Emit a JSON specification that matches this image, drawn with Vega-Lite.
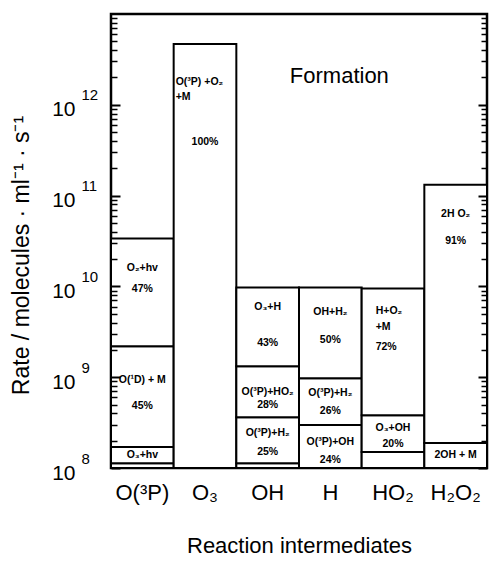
{
  "$schema": "https://vega.github.io/schema/vega-lite/v6.json",
  "width": 376,
  "height": 454,
  "autosize": {"type": "none"},
  "padding": {"left": 111, "top": 14, "right": 4, "bottom": 93},
  "background": "white",
  "config": {
    "view": {"stroke": "black", "strokeWidth": 2.5},
    "font": "Liberation Sans",
    "axis": {"labelColor": "black", "titleColor": "black", "labelFont": "Liberation Sans", "titleFont": "Liberation Sans"}
  },
  "datasets": {
    "segments": [
      {"species": "O(³P)", "lo": 1e8, "hi": 1.13e8},
      {"species": "O(³P)", "lo": 1.13e8, "hi": 1.7e8},
      {"species": "O(³P)", "lo": 1.7e8, "hi": 2.19e9},
      {"species": "O(³P)", "lo": 2.19e9, "hi": 3.37e10},
      {"species": "O₃", "lo": 1e8, "hi": 4.68e12},
      {"species": "OH", "lo": 1e8, "hi": 1.13e8},
      {"species": "OH", "lo": 1.13e8, "hi": 3.63e8},
      {"species": "OH", "lo": 3.63e8, "hi": 1.32e9},
      {"species": "OH", "lo": 1.32e9, "hi": 9.75e9},
      {"species": "H", "lo": 1e8, "hi": 2.97e8},
      {"species": "H", "lo": 2.97e8, "hi": 9.75e8},
      {"species": "H", "lo": 9.75e8, "hi": 9.75e9},
      {"species": "HO₂", "lo": 1e8, "hi": 1.5e8},
      {"species": "HO₂", "lo": 1.5e8, "hi": 3.82e8},
      {"species": "HO₂", "lo": 3.82e8, "hi": 9.5e9},
      {"species": "H₂O₂", "lo": 1e8, "hi": 1.88e8},
      {"species": "H₂O₂", "lo": 1.88e8, "hi": 1.32e11}
    ],
    "labels": [
      {"species": "O(³P)", "y": 1.58e10, "label": "O₂+hv"},
      {"species": "O(³P)", "y": 9.27e9, "label": "47%"},
      {"species": "O(³P)", "y": 9.27e8, "label": "O(¹D) + M"},
      {"species": "O(³P)", "y": 4.8e8, "label": "45%"},
      {"species": "O(³P)", "y": 1.39e8, "label": "O₃+hv"},
      {"species": "O₃", "y": 1.79e12, "label": "O(³P) +O₂"},
      {"species": "O₃", "y": 1.22e12, "label": "+M"},
      {"species": "O₃", "y": 3.92e11, "label": "100%"},
      {"species": "OH", "y": 5.88e9, "label": "O₃+H"},
      {"species": "OH", "y": 2.36e9, "label": "43%"},
      {"species": "OH", "y": 6.84e8, "label": "O(³P)+HO₂"},
      {"species": "OH", "y": 4.92e8, "label": "28%"},
      {"species": "OH", "y": 2.42e8, "label": "O(³P)+H₂"},
      {"species": "OH", "y": 1.5e8, "label": "25%"},
      {"species": "H", "y": 5.18e9, "label": "OH+H₂"},
      {"species": "H", "y": 2.55e9, "label": "50%"},
      {"species": "H", "y": 6.67e8, "label": "O(³P)+H₂"},
      {"species": "H", "y": 4.23e8, "label": "26%"},
      {"species": "H", "y": 1.93e8, "label": "O(³P)+OH"},
      {"species": "H", "y": 1.22e8, "label": "24%"},
      {"species": "HO₂", "y": 5.31e9, "label": "H+O₂"},
      {"species": "HO₂", "y": 3.54e9, "label": "+M"},
      {"species": "HO₂", "y": 2.14e9, "label": "72%"},
      {"species": "HO₂", "y": 2.75e8, "label": "O₃+OH"},
      {"species": "HO₂", "y": 1.84e8, "label": "20%"},
      {"species": "H₂O₂", "y": 6.34e10, "label": "2H O₂"},
      {"species": "H₂O₂", "y": 3.2e10, "label": "91%"},
      {"species": "H₂O₂", "y": 1.39e8, "label": "2OH + M"}
    ],
    "panel": [
      {"species": "H", "y": 2.08e12, "label": "Formation"}
    ]
  },
  "layer": [
    {
      "data": {"name": "segments"},
      "mark": {"type": "bar", "fill": "white", "stroke": "black", "strokeWidth": 2},
      "encoding": {
        "x": {
          "field": "species", "type": "nominal",
          "sort": ["O(³P)", "O₃", "OH", "H", "HO₂", "H₂O₂"],
          "scale": {"paddingInner": 0, "paddingOuter": 0},
          "axis": {"title": "Reaction intermediates", "domain": false, "grid": false, "labelFontSize": 22, "labelAngle": 0, "ticks": false, "labelPadding": 14, "titleFontSize": 22, "titleFontWeight": "normal", "titlePadding": 32}
        },
        "y": {
          "field": "hi", "type": "quantitative",
          "scale": {"type": "log", "domain": [1e8, 1e13], "nice": false},
          "axis": {"orient": "left", "domain": true, "domainOpacity": 0, "grid": false, "zindex": 1, "offset": -9, "values": [1e8, 1e9, 1e10, 1e11, 1e12], "labelExpr": "'10'", "labelFontSize": 21, "ticks": true, "tickSize": 9, "tickWidth": 2, "tickColor": "black", "labelPadding": 36, "labelAlign": "right", "labelBaseline": "middle", "labelOffset": 5,
            "title": "Rate / molecules · ml⁻¹ · s⁻¹", "titleFontSize": 23, "titleFontWeight": "normal", "titleX": -87, "titleY": 241, "titleBaseline": "bottom"}
        },
        "y2": {"field": "lo"}
      }
    },
    {
      "data": {"name": "labels"},
      "transform": [{"filter": "!(datum.species == 'O₃' && datum.label != '100%') && !(datum.species == 'HO₂' && (datum.label == 'H+O₂' || datum.label == '+M' || datum.label == '72%'))"}],
      "mark": {"type": "text", "fontSize": 10.5, "fontWeight": "bold", "align": "center", "baseline": "middle"},
      "encoding": {
        "x": {"field": "species", "type": "nominal", "sort": ["O(³P)", "O₃", "OH", "H", "HO₂", "H₂O₂"], "axis": null},
        "y": {"field": "y", "type": "quantitative",
          "axis": {"orient": "left", "domain": false, "grid": false, "values": [1e8, 1e9, 1e10, 1e11, 1e12], "labelExpr": "format(log(datum.value)/LN10, 'd')", "labelFontSize": 15, "ticks": false, "labelPadding": 30, "labelAlign": "left", "labelBaseline": "middle", "labelOffset": -10, "title": null}
        },
        "text": {"field": "label"}
      }
    },
    {
      "data": {"name": "labels"},
      "transform": [{"filter": "datum.species == 'O₃' && datum.label != '100%'"}],
      "mark": {"type": "text", "fontSize": 10.5, "fontWeight": "bold", "align": "left", "baseline": "middle", "dx": 2},
      "encoding": {
        "x": {"field": "species", "type": "nominal", "sort": ["O(³P)", "O₃", "OH", "H", "HO₂", "H₂O₂"], "bandPosition": 0, "axis": null},
        "y": {"field": "y", "type": "quantitative",
          "axis": {"orient": "left", "domain": true, "domainOpacity": 0, "grid": false, "zindex": 1, "offset": -6, "values": [2e8,3e8,4e8,5e8,6e8,7e8,8e8,9e8,2e9,3e9,4e9,5e9,6e9,7e9,8e9,9e9,2e10,3e10,4e10,5e10,6e10,7e10,8e10,9e10,2e11,3e11,4e11,5e11,6e11,7e11,8e11,9e11,2e12,3e12,4e12,5e12,6e12,7e12,8e12,9e12], "labels": false, "ticks": true, "tickSize": 6, "tickWidth": 1.5, "tickColor": "black", "title": null}
        },
        "text": {"field": "label"}
      }
    },
    {
      "data": {"name": "labels"},
      "transform": [{"filter": "datum.species == 'HO₂' && (datum.label == 'H+O₂' || datum.label == '+M' || datum.label == '72%')"}],
      "mark": {"type": "text", "fontSize": 10.5, "fontWeight": "bold", "align": "left", "baseline": "middle", "dx": 14},
      "encoding": {
        "x": {"field": "species", "type": "nominal", "sort": ["O(³P)", "O₃", "OH", "H", "HO₂", "H₂O₂"], "bandPosition": 0, "axis": null},
        "y": {"field": "y", "type": "quantitative",
          "axis": {"orient": "right", "domain": true, "domainOpacity": 0, "grid": false, "zindex": 1, "offset": -9, "values": [1e8, 1e9, 1e10, 1e11, 1e12], "labels": false, "ticks": true, "tickSize": 9, "tickWidth": 2, "tickColor": "black", "title": null}
        },
        "text": {"field": "label"}
      }
    },
    {
      "data": {"name": "panel"},
      "mark": {"type": "text", "fontSize": 22, "align": "center", "baseline": "middle", "dx": 9},
      "encoding": {
        "x": {"field": "species", "type": "nominal", "sort": ["O(³P)", "O₃", "OH", "H", "HO₂", "H₂O₂"], "axis": null},
        "y": {"field": "y", "type": "quantitative",
          "axis": {"orient": "right", "domain": true, "domainOpacity": 0, "grid": false, "zindex": 1, "offset": -6, "values": [2e8,3e8,4e8,5e8,6e8,7e8,8e8,9e8,2e9,3e9,4e9,5e9,6e9,7e9,8e9,9e9,2e10,3e10,4e10,5e10,6e10,7e10,8e10,9e10,2e11,3e11,4e11,5e11,6e11,7e11,8e11,9e11,2e12,3e12,4e12,5e12,6e12,7e12,8e12,9e12], "labels": false, "ticks": true, "tickSize": 6, "tickWidth": 1.5, "tickColor": "black", "title": null}
        },
        "text": {"field": "label"}
      }
    }
  ],
  "resolve": {"axis": {"y": "independent", "x": "independent"}}
}
